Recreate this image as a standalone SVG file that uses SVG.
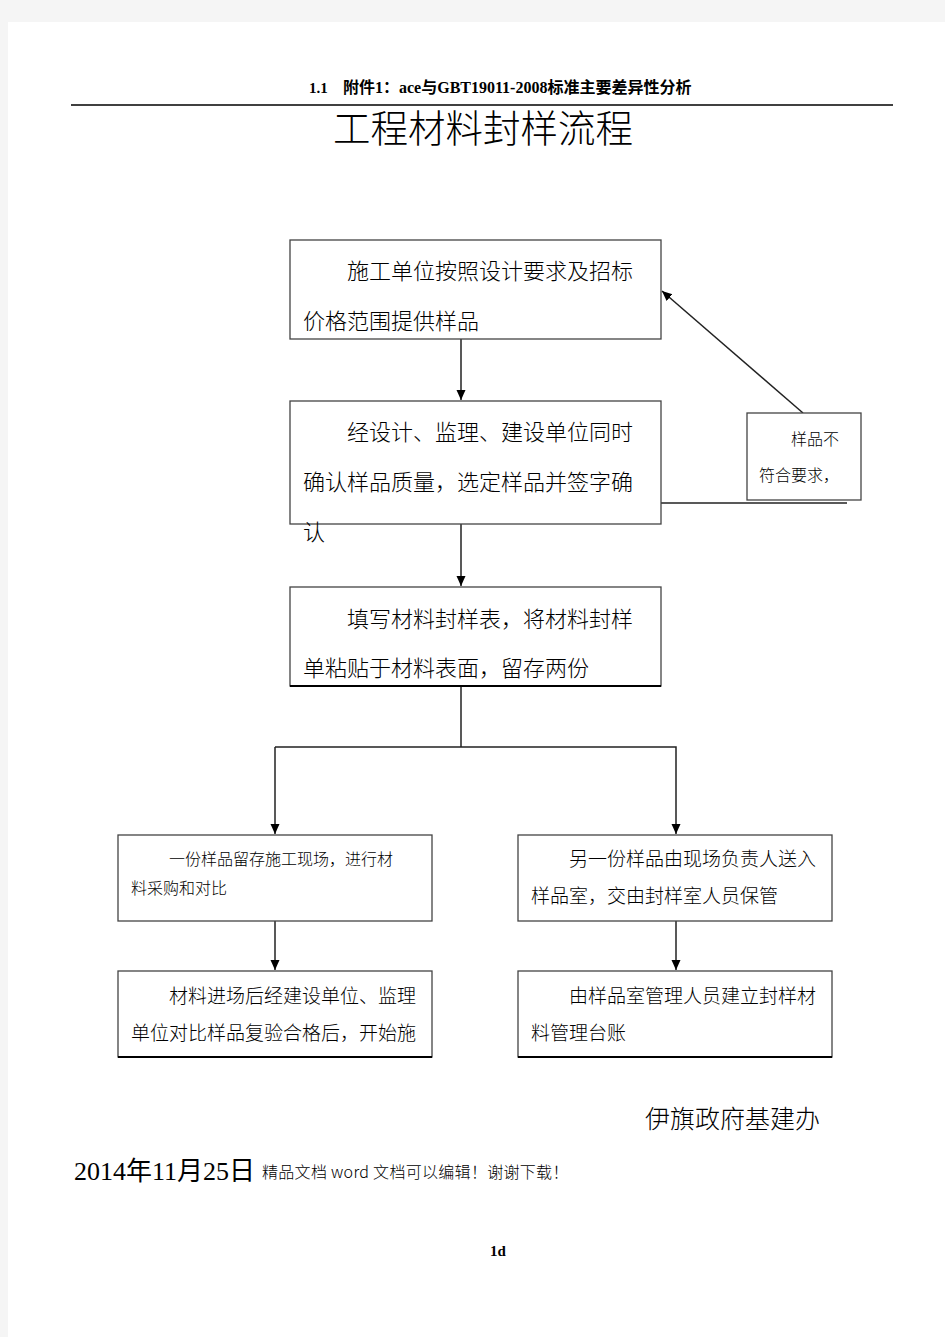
<svg xmlns="http://www.w3.org/2000/svg" width="945" height="1337" viewBox="0 0 945 1337">
<style>
.cj{font-family:"Noto Sans CJK SC","Noto Sans",sans-serif;fill:#000;font-weight:300}
.sr{font-family:"Liberation Serif","Noto Sans CJK SC",serif;fill:#000}
.box{fill:#fff;stroke:#444;stroke-width:1.3}
.ln{fill:none;stroke:#222;stroke-width:1.5}
.t22{font-size:22px}
.t19{font-size:19px}
.t16{font-size:16px}
</style>
<defs>
<marker id="ah" markerUnits="userSpaceOnUse" markerWidth="10" markerHeight="10" refX="10" refY="4.5" orient="auto">
<path d="M0,0 L10,4.5 L0,9 z" fill="#000"/>
</marker>
</defs>
<rect x="0" y="0" width="945" height="1337" fill="#f5f5f5"/>
<rect x="8" y="22" width="937" height="1315" fill="#fff"/>

<g id="header">
<text class="sr" x="309" y="93" font-size="15" font-weight="bold">1.1</text>
<text class="sr" x="343" y="93" font-size="16" font-weight="bold">附件1：ace与GBT19011-2008标准主要差异性分析</text>
<line x1="71" y1="105" x2="893" y2="105" stroke="#000" stroke-width="1.3"/>
</g>
<g id="title">
<text class="cj" x="333" y="142" font-size="37.5">工程材料封样流程</text>
</g>

<g id="connectors">
<line class="ln" x1="461" y1="339" x2="461" y2="400" marker-end="url(#ah)"/>
<line class="ln" x1="461" y1="524" x2="461" y2="586" marker-end="url(#ah)"/>
<polyline class="ln" points="461,686 461,747"/>
<polyline class="ln" points="275,747 676,747 676,834" marker-end="url(#ah)"/>
<line class="ln" x1="275" y1="747" x2="275" y2="834" marker-end="url(#ah)"/>
<line class="ln" x1="275" y1="921" x2="275" y2="970" marker-end="url(#ah)"/>
<line class="ln" x1="676" y1="921" x2="676" y2="970" marker-end="url(#ah)"/>
<line class="ln" x1="803" y1="413" x2="662" y2="291" marker-end="url(#ah)"/>
<line class="ln" x1="661" y1="503" x2="847" y2="503"/>
</g>

<g id="n1">
<rect class="box" x="290" y="240" width="371" height="99"/>
<text class="cj t22" x="347" y="279">施工单位按照设计要求及招标</text>
<text class="cj t22" x="303" y="329">价格范围提供样品</text>
</g>
<g id="n2">
<rect class="box" x="290" y="401" width="371" height="123"/>
<text class="cj t22" x="347" y="440">经设计、监理、建设单位同时</text>
<text class="cj t22" x="303" y="490">确认样品质量，选定样品并签字确</text>
<text class="cj t22" x="303" y="540">认</text>
</g>
<g id="n3">
<rect class="box" x="290" y="587" width="371" height="99"/>
<line x1="290" y1="686" x2="661" y2="686" stroke="#000" stroke-width="2"/>
<text class="cj t22" x="347" y="627">填写材料封样表，将材料封样</text>
<text class="cj t22" x="303" y="676">单粘贴于材料表面，留存两份</text>
</g>
<g id="n4">
<rect class="box" x="118" y="835" width="314" height="86"/>
<text class="cj t16" x="169" y="865">一份样品留存施工现场，进行材</text>
<text class="cj t16" x="131" y="894">料采购和对比</text>
</g>
<g id="n5">
<rect class="box" x="518" y="835" width="314" height="86"/>
<text class="cj t19" x="569" y="866">另一份样品由现场负责人送入</text>
<text class="cj t19" x="531" y="903">样品室，交由封样室人员保管</text>
</g>
<g id="n6">
<rect class="box" x="118" y="971" width="314" height="86"/>
<line x1="118" y1="1057" x2="432" y2="1057" stroke="#000" stroke-width="2"/>
<text class="cj t19" x="169" y="1003">材料进场后经建设单位、监理</text>
<text class="cj t19" x="131" y="1040">单位对比样品复验合格后，开始施</text>
</g>
<g id="n7">
<rect class="box" x="518" y="971" width="314" height="86"/>
<line x1="518" y1="1057" x2="832" y2="1057" stroke="#000" stroke-width="2"/>
<text class="cj t19" x="569" y="1003">由样品室管理人员建立封样材</text>
<text class="cj t19" x="531" y="1040">料管理台账</text>
</g>
<g id="n8">
<rect class="box" x="747" y="413" width="114" height="87"/>
<text class="cj t16" x="791" y="445">样品不</text>
<text class="cj t16" x="759" y="481">符合要求，</text>
</g>

<g id="footer">
<text class="cj" x="645" y="1128" font-size="25">伊旗政府基建办</text>
<text class="sr" x="74" y="1180" font-size="26">2014年11月25日</text>
<text class="cj t16" x="262" y="1178" letter-spacing="0.3">精品文档 word 文档可以编辑！谢谢下载！</text>
<text class="sr" x="490" y="1256" font-size="15" font-weight="bold">1d</text>
</g>
</svg>
